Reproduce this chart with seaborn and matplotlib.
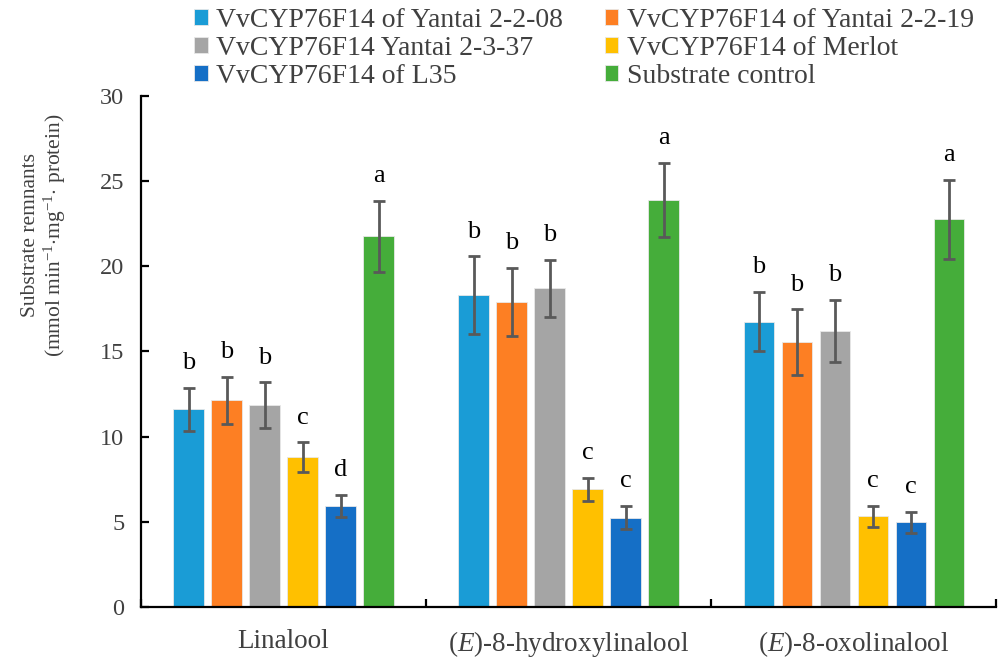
import matplotlib
matplotlib.use("Agg")
import matplotlib.pyplot as plt
import pandas as pd
import seaborn as sns

COMPOUNDS = ["Linalool", "$(E)$-8-hydroxylinalool", "$(E)$-8-oxolinalool"]
SAMPLES = [
    "VvCYP76F14 of Yantai 2-2-08",
    "VvCYP76F14 of Yantai 2-2-19",
    "VvCYP76F14 Yantai 2-3-37",
    "VvCYP76F14 of Merlot",
    "VvCYP76F14 of L35",
    "Substrate control",
]
COLORS = ["#1A9CD6", "#FD7F23", "#A5A5A5", "#FFC000", "#156FC6", "#45AD3A"]

# rows = samples, columns = compounds
MEANS = [
    [11.6, 18.3, 16.75],
    [12.15, 17.9, 15.55],
    [11.85, 18.7, 16.2],
    [8.8, 6.9, 5.33],
    [5.94, 5.25, 4.97],
    [21.76, 23.9, 22.75],
]
ERRORS = [
    [1.25, 2.28, 1.74],
    [1.38, 2.0, 1.93],
    [1.33, 1.69, 1.84],
    [0.86, 0.7, 0.62],
    [0.63, 0.7, 0.61],
    [2.09, 2.16, 2.31],
]
LETTERS = [
    ["b", "b", "b"],
    ["b", "b", "b"],
    ["b", "b", "b"],
    ["c", "c", "c"],
    ["d", "c", "c"],
    ["a", "a", "a"],
]

sns.set_theme(style="white")
plt.rcParams["font.family"] = ["Liberation Serif", "DejaVu Serif"]
plt.rcParams["mathtext.fontset"] = "custom"
plt.rcParams["mathtext.rm"] = "Liberation Serif"
plt.rcParams["mathtext.it"] = "Liberation Serif:italic"

rows = []
for s, vals in zip(SAMPLES, MEANS):
    for c, v in zip(COMPOUNDS, vals):
        rows.append({"sample": s, "compound": c, "value": v})
df = pd.DataFrame(rows)

fig = plt.figure(figsize=(9.98, 6.61), dpi=100)
ax = fig.add_axes([0.1413, 0.0817, 0.857, 0.7731])

sns.barplot(data=df, x="compound", y="value", hue="sample", order=COMPOUNDS,
            hue_order=SAMPLES, palette=COLORS, width=0.8, gap=0.2,
            errorbar=None, saturation=1, edgecolor="#E8E8E8", linewidth=0.6,
            legend=True, ax=ax)

ink = "#404040"
bar_containers = list(ax.containers)
for i, cont in enumerate(bar_containers):
    for j, bar in enumerate(cont.patches):
        x = bar.get_x() + bar.get_width() / 2
        h = bar.get_height()
        e = ERRORS[i][j]
        ax.errorbar(x, h, yerr=e, fmt="none", ecolor="#595959", elinewidth=2.0,
                    capsize=4.3, capthick=2.0, zorder=5)
        ax.text(x, h + e + 1.45, LETTERS[i][j], ha="center", va="center",
                fontsize=19, color="black")

ax.set_ylim(0, 30)
ax.set_xlim(-0.5, 2.5)
ax.set_yticks(range(0, 31, 5))
ax.set_xlabel("")
ax.set_ylabel("Substrate remnants\n(mmol min$^{-1}$$\\cdot$mg$^{-1}$$\\cdot$ protein)",
              fontsize=15.5, color=ink, linespacing=1.1)
ax.yaxis.set_label_coords(-0.085, 0.728)

for side in ["top", "right"]:
    ax.spines[side].set_visible(False)
for side in ["left", "bottom"]:
    ax.spines[side].set_color("black")
    ax.spines[side].set_linewidth(1.6)

ax.tick_params(axis="y", direction="in", length=6, width=1.6, color="black",
               labelsize=17.5, labelcolor=ink, pad=12, left=True)
ax.tick_params(axis="x", which="major", length=0, labelsize=19.5, labelcolor=ink, pad=16)
ax.set_xticks([-0.5, 0.5, 1.5, 2.5], minor=True)
ax.tick_params(axis="x", which="minor", direction="in", length=6, width=1.6,
               color="black", bottom=True)

handles, labels = ax.get_legend_handles_labels()
order = [0, 2, 4, 1, 3, 5]
ax.legend([handles[k] for k in order], [labels[k] for k in order],
          ncol=2, loc="upper left", bbox_to_anchor=(0.175, 1.017),
          bbox_transform=fig.transFigure, frameon=False, fontsize=20,
          handlelength=0.5, handleheight=0.5, handletextpad=0.29,
          columnspacing=1.5, labelspacing=0.1, labelcolor=ink,
          borderpad=0.2)

fig.savefig("out.png", dpi=100)
